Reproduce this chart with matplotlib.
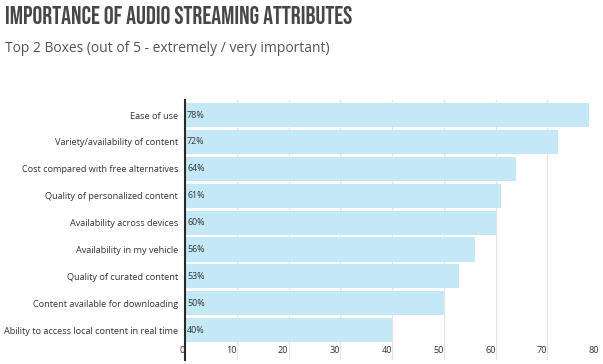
import matplotlib
matplotlib.use('Agg')
import matplotlib.pyplot as plt

# Data
attributes = [
    'Ease of use',
    'Variety/availability of content',
    'Cost compared with free alternatives',
    'Quality of personalized content',
    'Availability across devices',
    'Availability in my vehicle',
    'Quality of curated content',
    'Content available for downloading',
    'Ability to access local content in real time',
]
pct = [78, 72, 64, 61, 60, 56, 53, 50, 40]
xticks = [0, 10, 20, 30, 40, 50, 60, 70, 80]

bar_color = '#c4e8f5'
text_color = '#333333'

fig = plt.figure(figsize=(6.03, 3.64), dpi=100)
ax = fig.add_axes([185 / 603, 4 / 364, 414 / 603, 260 / 364])

pos = list(range(len(attributes)))
ax.barh(pos, pct, height=0.9, color=bar_color, zorder=2)

for p, v in zip(pos, pct):
    ax.text(0.4, p, f'{v}%', va='center', ha='left', fontsize=6.4,
            family='Open Sans', color=text_color, zorder=3)

ax.set_xlim(0, 80)
ax.set_ylim(9.11, -0.56)
ax.set_yticks(pos)
ax.set_yticklabels(attributes, fontsize=6.6, family='Open Sans', color=text_color)
ax.tick_params(axis='y', length=0, pad=5)

ax.set_xticks(xticks)
ax.set_xticklabels([str(t) for t in xticks], fontsize=6.6, family='Open Sans',
                   color=text_color)
ax.tick_params(axis='x', length=0, pad=-10)
for lbl in ax.get_xticklabels():
    lbl.set_horizontalalignment('right')

ax.grid(axis='x', color='#e4e4e4', linewidth=0.8, zorder=0)
ax.set_axisbelow(True)
for s in ['top', 'right', 'bottom']:
    ax.spines[s].set_visible(False)
ax.spines['left'].set_color('#2a2a2a')
ax.spines['left'].set_linewidth(1.5)
ax.spines['left'].set_zorder(4)

fig.text(5 / 603, 1 - 15 / 364, 'IMPORTANCE OF AUDIO STREAMING ATTRIBUTES',
         family=['Bebas Neue', 'Oswald', 'Liberation Sans Narrow', 'DejaVu Sans'],
         fontsize=17.7, color='#474747', va='center', ha='left')
fig.text(5 / 603, 1 - 48 / 364, 'Top 2 Boxes (out of 5 - extremely / very important)',
         family='Open Sans', fontsize=10, color='#555555', va='center', ha='left')

fig.savefig('out.png', dpi=100)
